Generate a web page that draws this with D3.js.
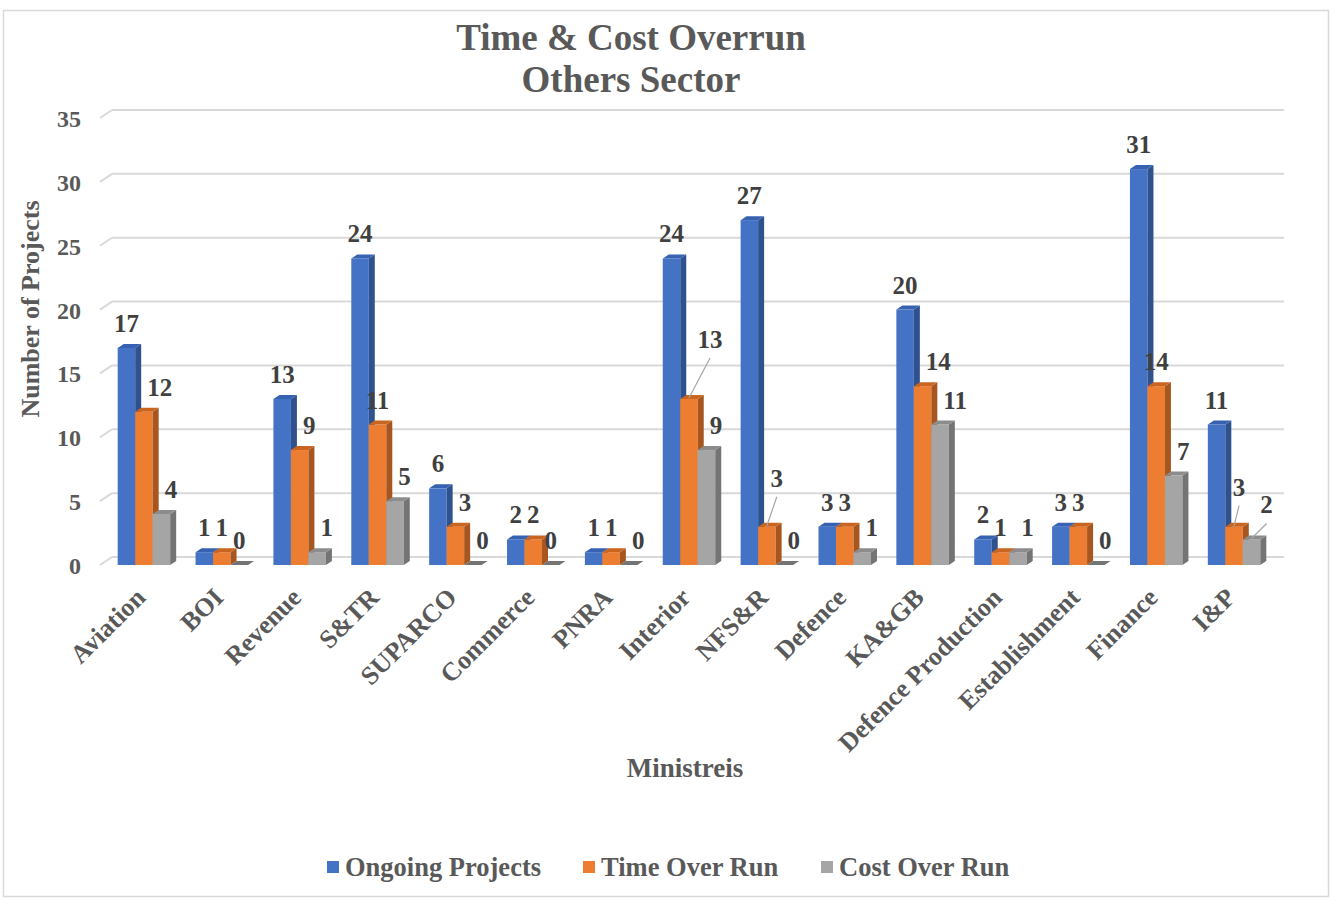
<!DOCTYPE html>
<html>
<head>
<meta charset="utf-8">
<script src="https://cdn.jsdelivr.net/npm/d3@7"></script>
<style>
  body { margin: 0; background: #fff; }
  text { font-family: "Liberation Serif", "Times New Roman", serif; font-weight: bold; }
</style>
</head>
<body>
<svg id="chart" width="1332" height="900"></svg>
<script>
"use strict";

// chart data
const categories = ['Aviation', 'BOI', 'Revenue', 'S&TR', 'SUPARCO', 'Commerce', 'PNRA',
    'Interior', 'NFS&R', 'Defence', 'KA&GB', 'Defence Production', 'Establishment', 'Finance', 'I&P'];
const ongoing  = [17, 1, 13, 24, 6, 2, 1, 24, 27, 3, 20, 2, 3, 31, 11];
const timeOver = [12, 1, 9, 11, 3, 2, 1, 13, 3, 3, 14, 1, 3, 14, 3];
const costOver = [4, 0, 1, 5, 0, 0, 0, 9, 0, 1, 11, 1, 0, 7, 2];
const seriesNames = ['Ongoing Projects', 'Time Over Run', 'Cost Over Run'];
const yTicks = [0, 5, 10, 15, 20, 25, 30, 35];

// label placement exceptions (Excel moved these by hand)
const labelCentered = [['BOI', 2], ['Commerce', 2], ['Defence Production', 1], ['S&TR', 1], ['Finance', 1]];
const labelShifted = [['Defence Production', 2]];
const labelLeader = [['Interior', 1, 21, -60], ['NFS&R', 1, 10, -49], ['I&P', 1, 5, -40], ['I&P', 2, 15, -35]];

const series = [ongoing, timeOver, costOver];
const colors = [
    {front: '#4472C4', side: '#2F528F', top: '#3762B2'},
    {front: '#ED7D31', side: '#A8561F', top: '#C9651F'},
    {front: '#A5A5A5', side: '#747474', top: '#8C8C8C'}
];

const svg = d3.select('#chart');
const depthX = 6, depthY = 4;   // bar 3d offset
const wallX = 12, wallY = 8;    // back wall offset

// frame
svg.append('rect')
    .attr('x', 3.5).attr('y', 10.5)
    .attr('width', 1325).attr('height', 886)
    .attr('fill', 'none').attr('stroke', '#d9d9d9').attr('stroke-width', 1.5);

// title
svg.append('text').attr('x', 631).attr('y', 50).attr('text-anchor', 'middle')
    .attr('font-size', 37).attr('fill', '#595959').text('Time & Cost Overrun');
svg.append('text').attr('x', 631).attr('y', 92).attr('text-anchor', 'middle')
    .attr('font-size', 37).attr('fill', '#595959').text('Others Sector');

const y = d3.scaleLinear().domain([0, 35]).range([565, 118]);
const x0 = d3.scaleBand().domain(categories).range([105, 1273])
    .paddingInner(0.326).paddingOuter(0.163);
const x1 = d3.scaleBand().domain([0, 1, 2]).range([0, x0.bandwidth()]);

// grid on back wall + side diagonal
const grid = svg.append('g');
grid.selectAll('line.g').data(yTicks).enter().append('line')
    .attr('x1', 100 + wallX).attr('x2', 1284)
    .attr('y1', d => y(d) - wallY).attr('y2', d => y(d) - wallY)
    .attr('stroke', '#d9d9d9').attr('stroke-width', 2);
grid.selectAll('line.d').data(yTicks).enter().append('line')
    .attr('x1', 100).attr('x2', 100 + wallX)
    .attr('y1', d => y(d)).attr('y2', d => y(d) - wallY)
    .attr('stroke', '#d9d9d9').attr('stroke-width', 2);

// y tick labels
svg.append('g').selectAll('text').data(yTicks).enter().append('text')
    .attr('x', 81).attr('y', d => y(d) + 9)
    .attr('text-anchor', 'end').attr('font-size', 24).attr('fill', '#595959')
    .text(d => d);

// y title
svg.append('text')
    .attr('transform', 'translate(39,309) rotate(-90)')
    .attr('text-anchor', 'middle').attr('font-size', 26).attr('fill', '#595959')
    .text('Number of Projects');

// bars
const bars = [];
categories.forEach((c, i) => {
    series.forEach((vals, s) => {
        bars.push({cat: c, i: i, s: s, v: vals[i]});
    });
});

const bg = svg.append('g');
bars.forEach(b => {
    const bx = x0(b.cat) + x1(b.s);
    const bw = x1.bandwidth();
    const top = y(b.v), bot = y(0);
    const col = colors[b.s];
    const g = bg.append('g');
    if (b.v > 0) {
        g.append('rect').attr('x', bx).attr('y', top)
            .attr('width', bw).attr('height', bot - top).attr('fill', col.front);
        g.append('path')
            .attr('d', `M${bx + bw},${top} L${bx + bw + depthX},${top - depthY} L${bx + bw + depthX},${bot - depthY} L${bx + bw},${bot} Z`)
            .attr('fill', col.side);
    }
    g.append('path')
        .attr('d', `M${bx},${top} L${bx + depthX},${top - depthY} L${bx + bw + depthX},${top - depthY} L${bx + bw},${top} Z`)
        .attr('fill', b.v > 0 ? col.top : col.side);
    b.bx = bx; b.bw = bw; b.top = top;
});

// data labels
const has = (list, b) => list.find(d => d[0] == b.cat && d[1] == b.s);
const lg = svg.append('g');
bars.forEach(b => {
    const prev = b.s > 0 ? series[b.s - 1][b.i] : Infinity;
    const lead = has(labelLeader, b);
    const cx = b.bx + b.bw / 2;
    if (lead) {
        const lx = cx + lead[2], ly = b.top + lead[3];
        lg.append('line').attr('x1', cx).attr('y1', b.top - 1)
            .attr('x2', lx).attr('y2', ly + 19)
            .attr('stroke', '#a6a6a6').attr('stroke-width', 1.2);
        lg.append('text').attr('x', lx).attr('y', ly + 9)
            .attr('text-anchor', 'middle').attr('font-size', 25).attr('fill', '#404040')
            .text(b.v);
        return;
    }
    let shift = prev < Infinity && prev > b.v;
    if (has(labelCentered, b)) shift = false;
    if (has(labelShifted, b)) shift = true;
    lg.append('text')
        .attr('x', shift ? b.bx + 12 : cx)
        .attr('y', b.top - 16)
        .attr('text-anchor', shift ? 'start' : 'middle')
        .attr('font-size', 25).attr('fill', '#404040')
        .text(b.v);
});

// x labels
svg.append('g').selectAll('text').data(categories).enter().append('text')
    .attr('transform', d => `translate(${x0(d) + x0.bandwidth() / 2 + 3},599) rotate(-45)`)
    .attr('text-anchor', 'end').attr('font-size', 26).attr('fill', '#595959')
    .text(d => d);

// x title
svg.append('text').attr('x', 685).attr('y', 777).attr('text-anchor', 'middle')
    .attr('font-size', 27).attr('fill', '#595959').text('Ministreis');

// legend
const legX = [327, 583, 821];
const leg = svg.append('g');
seriesNames.forEach((n, s) => {
    leg.append('rect').attr('x', legX[s]).attr('y', 861)
        .attr('width', 12).attr('height', 12).attr('fill', colors[s].front);
    leg.append('text').attr('x', legX[s] + 18).attr('y', 876)
        .attr('font-size', 26.5).attr('fill', '#595959').text(n);
});
</script>
</body>
</html>
